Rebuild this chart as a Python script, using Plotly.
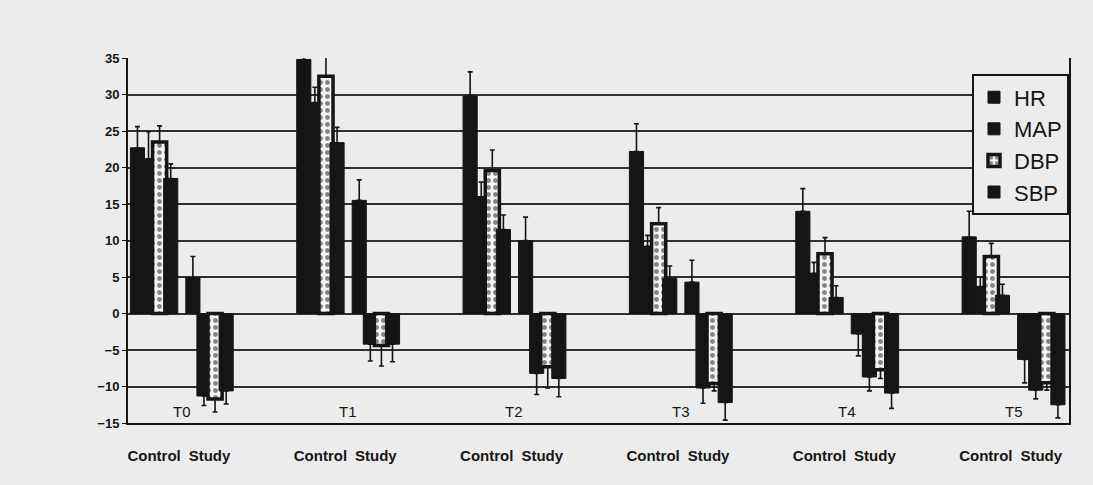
import plotly.graph_objects as go

# ---- data ----
times = ["T0", "T1", "T2", "T3", "T4", "T5"]
groups = ["Control", "Study"]
series = ["HR", "MAP", "DBP", "SBP"]

hr_control = [22.7, 34.8, 29.8, 22.2, 14.0, 10.5]
hr_control_err = [2.9, 2.0, 3.3, 3.8, 3.1, 3.5]
map_control = [21.2, 28.9, 16.0, 9.2, 5.5, 3.7]
map_control_err = [3.7, 2.1, 2.0, 1.5, 1.5, 1.3]
dbp_control = [23.5, 32.5, 19.6, 12.3, 8.2, 7.8]
dbp_control_err = [2.2, 3.3, 2.8, 2.2, 2.2, 1.8]
sbp_control = [18.5, 23.4, 11.5, 4.8, 2.2, 2.5]
sbp_control_err = [2.0, 2.1, 2.0, 1.7, 1.6, 1.5]

hr_study = [4.9, 15.5, 10.0, 4.3, -2.8, -6.3]
hr_study_err = [2.9, 2.8, 3.2, 3.0, 3.0, 3.2]
map_study = [-11.3, -4.2, -8.2, -10.2, -8.7, -10.5]
map_study_err = [1.3, 2.3, 2.9, 2.1, 1.9, 1.2]
dbp_study = [-11.7, -4.4, -7.3, -9.6, -7.7, -9.5]
dbp_study_err = [1.8, 2.8, 2.9, 1.0, 1.2, 1.0]
sbp_study = [-10.6, -4.2, -8.9, -12.2, -10.9, -12.5]
sbp_study_err = [1.8, 2.4, 2.5, 2.4, 2.1, 1.8]

y_ticks = [-15, -10, -5, 0, 5, 10, 15, 20, 25, 30, 35]

# ---- build ----
data = {
    "HR": (hr_control + hr_study, hr_control_err + hr_study_err),
    "MAP": (map_control + map_study, map_control_err + map_study_err),
    "DBP": (dbp_control + dbp_study, dbp_control_err + dbp_study_err),
    "SBP": (sbp_control + sbp_study, sbp_control_err + sbp_study_err),
}
n = len(times)
x_pos = [3 * i for i in range(n)] + [3 * i + 1 for i in range(n)]

BAR_W = 0.255
STEP = 0.2
start = -(3 * STEP + BAR_W) / 2
INK = "#151515"
PAPER = "#ececec"
LIGHT = "#f4f4f4"

fig = go.Figure()
for k, name in enumerate(series):
    vals, errs = data[name]
    plus = [e if v >= 0 else 0 for v, e in zip(vals, errs)]
    minus = [e if v < 0 else 0 for v, e in zip(vals, errs)]
    marker = dict(color=INK, line=dict(color=INK, width=1))
    if name == "DBP":
        marker = dict(
            color=LIGHT,
            line=dict(color=INK, width=3.5),
            pattern=dict(shape=".", fgcolor=INK, bgcolor=LIGHT, size=7, solidity=0.4),
        )
    fig.add_trace(go.Bar(
        name=name, x=x_pos, y=vals,
        width=BAR_W, offset=start + k * STEP,
        marker=marker,
        error_y=dict(type="data", symmetric=False, array=plus, arrayminus=minus,
                     color=INK, thickness=1.6, width=2.5),
        cliponaxis=False,
    ))

for i, t in enumerate(times):
    fig.add_annotation(x=3 * i + 0.5, y=-15, text=t, showarrow=False,
                       yanchor="bottom", yshift=1,
                       font=dict(family="Liberation Sans, Arial", size=15, color=INK))

tickvals = []
ticktext = []
for i in range(n):
    tickvals += [3 * i, 3 * i + 1]
    ticktext += groups

fig.update_layout(
    width=1093, height=485,
    barmode="overlay",
    paper_bgcolor=PAPER, plot_bgcolor=PAPER,
    margin=dict(l=128, r=24, t=58, b=62),
    font=dict(family="Liberation Sans, Arial", color=INK),
    legend=dict(x=1, xanchor="right", y=0.955, yanchor="top",
                bgcolor=PAPER, bordercolor=INK, borderwidth=2,
                font=dict(size=22, color=INK), itemwidth=30),
    xaxis=dict(range=[-0.47, 16.5], tickvals=tickvals, ticktext=ticktext,
               showgrid=False, zeroline=False, showline=True, linecolor=INK, linewidth=2,
               ticks="", ticklabelstandoff=18,
               tickfont=dict(size=15, color=INK, weight="bold")),
    yaxis=dict(range=[-15, 35], tickvals=y_ticks, showgrid=True, gridcolor="#303030",
               gridwidth=1.6, zeroline=True, zerolinecolor="#303030", zerolinewidth=1.6,
               showline=True, linecolor=INK, linewidth=2, mirror=True,
               ticks="outside", ticklen=4, tickcolor=INK,
               tickfont=dict(size=13, color=INK, weight="bold")),
)

fig.write_html("out.html", config={"displayModeBar": False},
               post_script="document.body.style.margin='0';")
